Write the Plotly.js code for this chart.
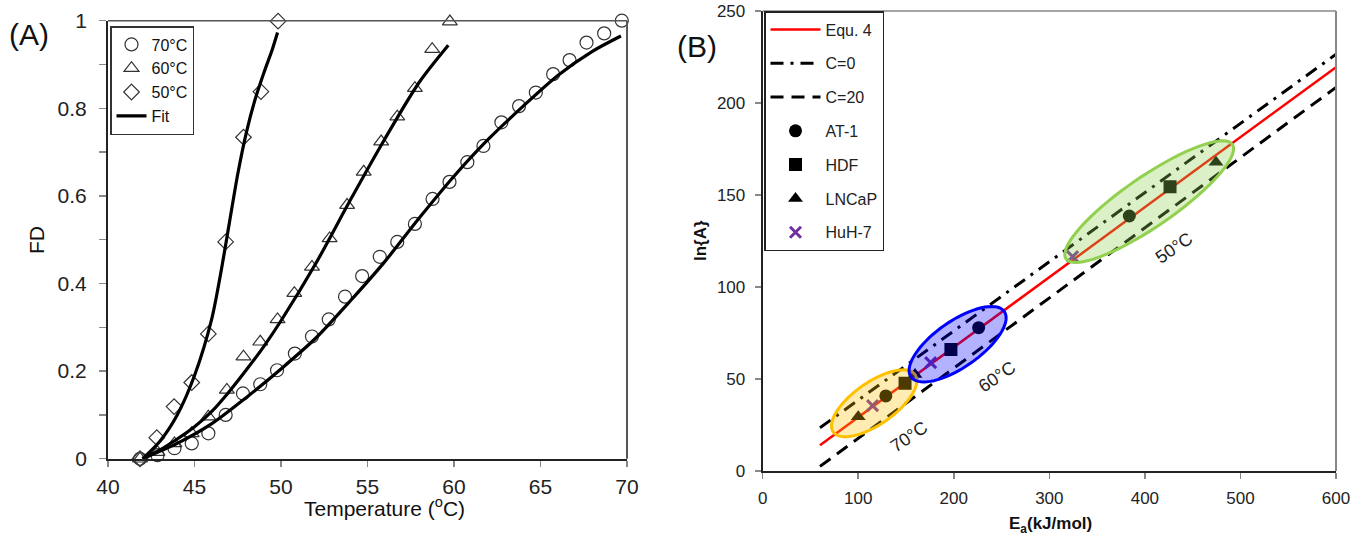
<!DOCTYPE html>
<html>
<head>
<meta charset="utf-8">
<script src="https://cdn.plot.ly/plotly-3.0.1.min.js"></script>
<style>html,body{margin:0;padding:0;background:#fff;}#chart{width:1369px;height:543px;}</style>
</head>
<body>
<div id="chart"></div>
<script>
// ---------- Panel A data ----------
const temp70 = [41.85, 42.86, 43.84, 44.84, 45.8, 46.8, 47.8, 48.8, 49.77, 50.8, 51.79, 52.76, 53.7, 54.69, 55.71, 56.72, 57.74, 58.76, 59.74, 60.77, 61.7, 62.74, 63.76, 64.73, 65.73, 66.68, 67.66, 68.68, 69.7];
const fd70 = [0, 0.008, 0.024, 0.035, 0.058, 0.1, 0.149, 0.17, 0.202, 0.24, 0.279, 0.318, 0.37, 0.417, 0.461, 0.495, 0.536, 0.593, 0.632, 0.677, 0.714, 0.768, 0.805, 0.836, 0.878, 0.91, 0.95, 0.971, 1.0];
const temp60 = [41.85, 42.86, 43.84, 44.84, 45.8, 46.87, 47.83, 48.8, 49.8, 50.77, 51.79, 52.81, 53.82, 54.78, 55.79, 56.72, 57.74, 58.74, 59.76];
const fd60 = [0, 0.015, 0.035, 0.058, 0.096, 0.157, 0.233, 0.267, 0.318, 0.378, 0.438, 0.503, 0.579, 0.655, 0.724, 0.781, 0.846, 0.935, 0.998];
const temp50 = [41.85, 42.82, 43.82, 44.84, 45.8, 46.8, 47.83, 48.84, 49.83];
const fd50 = [0, 0.048, 0.119, 0.174, 0.285, 0.495, 0.734, 0.838, 0.999];

const fitT70 = [42, 44, 46, 48, 50, 52, 54, 56, 58, 60, 62, 64, 66, 68, 69.65];
const fitFD70 = [0, 0.035, 0.08, 0.14, 0.205, 0.275, 0.36, 0.45, 0.55, 0.645, 0.73, 0.805, 0.875, 0.93, 0.965];
const fitT60 = [42, 43, 44, 45, 46, 47, 48, 49, 50, 52, 54, 56, 58, 59.67];
const fitFD60 = [0, 0.02, 0.045, 0.073, 0.108, 0.153, 0.203, 0.256, 0.315, 0.445, 0.59, 0.73, 0.86, 0.944];
const fitT50 = [42, 43, 44, 45, 46, 46.5, 47, 47.5, 48, 48.5, 49, 49.5, 49.8];
const fitFD50 = [0, 0.04, 0.1, 0.19, 0.32, 0.42, 0.535, 0.65, 0.745, 0.82, 0.88, 0.935, 0.973];

// ---------- Panel B data ----------
const lineEa = [60, 600];
const equ4LnA = [14, 219.5];
const c0LnA = [23.5, 226.5];
const c20LnA = [2.5, 208.5];

const at1Ea = [128.9, 226, 383.7];
const at1LnA = [40.8, 77.9, 138.6];
const hdfEa = [149, 197, 426.3];
const hdfLnA = [47.7, 66.1, 154.5];
const lncapEa = [100, 159.4, 474.4];
const lncapLnA = [29.5, 52.5, 167.8];
const huhEa = [115, 175.8, 324.4];
const huhLnA = [35.5, 58.9, 116.5];

// temperature groups (ellipses)
const groupLabels = ['70°C', '60°C', '50°C'];
const groupCenterEa = [116.7, 204, 404.5];
const groupCenterLnA = [36.8, 68.9, 146.4];
const groupLabelEa = [153, 245, 430.5];
const groupLabelLnA = [18.5, 51.1, 121.2];

// ---------- styling / geometry ----------
const W = 1369, H = 543;
const FONT = 'Liberation Sans, Arial, sans-serif';
const domAx = [0.0789, 0.458], domAy = [0.1552, 0.9619];
const domBx = [0.5571, 0.9759], domBy = [0.1326, 0.9797];
const ellipseSemiMajorPx = [50, 57, 101];
const ellipseSemiMinorPx = [21, 23, 25];
const ellipseAnglesDeg = [35, 35, 34.5];
const ellipseLine = ['#FFC000', '#0000FF', '#92D050'];
const ellipseFill = ['rgba(255,192,0,0.3)', 'rgba(0,0,255,0.3)', 'rgba(146,208,80,0.32)'];

const pxPerEa = (domBx[1] - domBx[0]) * W / 600;
const pxPerLnA = (domBy[1] - domBy[0]) * H / 250;

function ellipsePath(i) {
  const th = ellipseAnglesDeg[i] * Math.PI / 180;
  const a = ellipseSemiMajorPx[i], b = ellipseSemiMinorPx[i];
  let d = '';
  const n = 72;
  for (let k = 0; k <= n; k++) {
    const t = 2 * Math.PI * k / n;
    const dx = a * Math.cos(t) * Math.cos(th) - b * Math.sin(t) * Math.sin(th);
    const dy = a * Math.cos(t) * Math.sin(th) + b * Math.sin(t) * Math.cos(th);
    const x = groupCenterEa[i] + dx / pxPerEa;
    const y = groupCenterLnA[i] + dy / pxPerLnA;
    d += (k === 0 ? 'M' : 'L') + x.toFixed(3) + ',' + y.toFixed(3);
  }
  return d + 'Z';
}

const openMarker = (sym, size) => ({symbol: sym, size: size, color: '#333', line: {color: '#333', width: 1.2}});

const traces = [
  // Panel A
  {x: temp70, y: fd70, xaxis: 'x', yaxis: 'y', type: 'scatter', mode: 'markers', name: '70°C',
   marker: openMarker('circle-open', 13), cliponaxis: false, legend: 'legend2'},
  {x: temp60, y: fd60, xaxis: 'x', yaxis: 'y', type: 'scatter', mode: 'markers', name: '60°C',
   marker: openMarker('triangle-up-open', 13), cliponaxis: false, legend: 'legend2'},
  {x: temp50, y: fd50, xaxis: 'x', yaxis: 'y', type: 'scatter', mode: 'markers', name: '50°C',
   marker: openMarker('diamond-open', 12), cliponaxis: false, legend: 'legend2'},
  {x: fitT70, y: fitFD70, xaxis: 'x', yaxis: 'y', type: 'scatter', mode: 'lines', name: 'Fit',
   line: {color: '#000', width: 3.2, shape: 'spline', smoothing: 0.8}, legend: 'legend2', legendgroup: 'fit'},
  {x: fitT60, y: fitFD60, xaxis: 'x', yaxis: 'y', type: 'scatter', mode: 'lines', name: 'Fit',
   line: {color: '#000', width: 3.2, shape: 'spline', smoothing: 0.8}, legend: 'legend2', legendgroup: 'fit', showlegend: false},
  {x: fitT50, y: fitFD50, xaxis: 'x', yaxis: 'y', type: 'scatter', mode: 'lines', name: 'Fit',
   line: {color: '#000', width: 3.2, shape: 'spline', smoothing: 0.8}, legend: 'legend2', legendgroup: 'fit', showlegend: false},

  // Panel B
  {x: lineEa, y: equ4LnA, xaxis: 'x2', yaxis: 'y2', type: 'scatter', mode: 'lines', name: 'Equ. 4',
   line: {color: '#FF0000', width: 2.5}, legendgroup: 'g1'},
  {x: lineEa, y: c0LnA, xaxis: 'x2', yaxis: 'y2', type: 'scatter', mode: 'lines', name: 'C=0',
   line: {color: '#000', width: 3, dash: '13px,7px,3px,7px'}, legendgroup: 'g2'},
  {x: lineEa, y: c20LnA, xaxis: 'x2', yaxis: 'y2', type: 'scatter', mode: 'lines', name: 'C=20',
   line: {color: '#000', width: 3, dash: '13px,8px'}, legendgroup: 'g3'},
  {x: at1Ea, y: at1LnA, xaxis: 'x2', yaxis: 'y2', type: 'scatter', mode: 'markers', name: 'AT-1',
   marker: {symbol: 'circle', size: 13, color: '#000'}, legendgroup: 'g4'},
  {x: hdfEa, y: hdfLnA, xaxis: 'x2', yaxis: 'y2', type: 'scatter', mode: 'markers', name: 'HDF',
   marker: {symbol: 'square', size: 13, color: '#000'}, legendgroup: 'g5'},
  {x: lncapEa, y: lncapLnA, xaxis: 'x2', yaxis: 'y2', type: 'scatter', mode: 'markers', name: 'LNCaP',
   marker: {symbol: 'triangle-up', size: 13, color: '#000'}, legendgroup: 'g6'},
  {x: huhEa, y: huhLnA, xaxis: 'x2', yaxis: 'y2', type: 'scatter', mode: 'markers', name: 'HuH-7',
   marker: {symbol: 'x-thin-open', size: 11, color: '#7030A0', line: {color: '#7030A0', width: 3}}, legendgroup: 'g7'}
];

const shapes = [];
// frame top/right lines
shapes.push({type: 'line', xref: 'x domain', yref: 'y domain', x0: 0, x1: 1, y0: 1, y1: 1, line: {color: '#555', width: 1.5}});
shapes.push({type: 'line', xref: 'x domain', yref: 'y domain', x0: 1, x1: 1, y0: 0, y1: 1, line: {color: '#555', width: 2}});
shapes.push({type: 'line', xref: 'x2 domain', yref: 'y2 domain', x0: 0, x1: 1, y0: 1, y1: 1, line: {color: '#888', width: 1.5}});
shapes.push({type: 'line', xref: 'x2 domain', yref: 'y2 domain', x0: 1, x1: 1, y0: 0, y1: 1, line: {color: '#888', width: 2}});
for (let i = 0; i < groupLabels.length; i++) {
  shapes.push({type: 'path', xref: 'x2', yref: 'y2', path: ellipsePath(i), layer: 'above',
    fillcolor: ellipseFill[i], line: {color: ellipseLine[i], width: 3}});
}

const ann = (text, x, y, size, extra) => Object.assign({text: text, xref: 'paper', yref: 'paper', x: x / W, y: 1 - y / H,
  xanchor: 'center', yanchor: 'middle', showarrow: false, font: {family: FONT, size: size, color: '#111'}}, extra || {});

const annotations = [
  ann('(A)', 29, 35, 30),
  ann('(B)', 697, 46, 30),
  ann('FD', 36, 240, 21, {textangle: -90}),
  ann('Temperature (<sup>o</sup>C)', 384, 507, 21),
  ann('<b>E<sub>a</sub>(kJ/mol)</b>', 1050, 525, 17),
  ann('<b>ln{A}</b>', 700, 241, 17, {textangle: -90})
];
for (let i = 0; i < groupLabels.length; i++) {
  annotations.push({text: groupLabels[i], xref: 'x2', yref: 'y2', x: groupLabelEa[i], y: groupLabelLnA[i],
    xanchor: 'center', yanchor: 'middle',
    textangle: -34, showarrow: false, font: {family: FONT, size: 18, color: '#222'}});
}

const axisCommon = {showgrid: false, zeroline: false, showline: true, linecolor: '#222', ticks: 'outside',
  tickcolor: '#888', tickwidth: 1.5, tickfont: {family: FONT, color: '#222'}};

const layout = {
  width: W, height: H,
  margin: {l: 0, r: 0, t: 0, b: 0},
  paper_bgcolor: '#fff', plot_bgcolor: '#fff',
  font: {family: FONT},
  xaxis: Object.assign({}, axisCommon, {domain: domAx, range: [40, 70], dtick: 5, tick0: 40, anchor: 'y',
    ticklen: 6, linewidth: 2, ticklabelstandoff: 2, tickfont: {family: FONT, size: 21, color: '#222'}}),
  yaxis: Object.assign({}, axisCommon, {domain: domAy, range: [0, 1], dtick: 0.2, tick0: 0, anchor: 'x',
    ticklen: 7, linewidth: 2, ticklabelstandoff: 8, tickfont: {family: FONT, size: 21, color: '#222'},
    minor: {dtick: 0.1, ticks: 'outside', ticklen: 7, tickcolor: '#888', tickwidth: 1.5}}),
  xaxis2: Object.assign({}, axisCommon, {domain: domBx, range: [0, 600], dtick: 100, tick0: 0, anchor: 'y2',
    ticklen: 6, linewidth: 2, ticklabelstandoff: 5, tickfont: {family: FONT, size: 17, color: '#222'}}),
  yaxis2: Object.assign({}, axisCommon, {domain: domBy, range: [0, 250], dtick: 50, tick0: 0, anchor: 'x2',
    ticklen: 6, linewidth: 2, ticklabelstandoff: 6, tickfont: {family: FONT, size: 17, color: '#222'}}),
  legend: {x: 764 / W, y: 1 - 11 / H, xanchor: 'left', yanchor: 'top', bgcolor: '#fff', bordercolor: '#222', borderwidth: 1.5,
    font: {family: FONT, size: 16, color: '#222'}, traceorder: 'grouped', tracegroupgap: 10, itemwidth: 50},
  legend2: {x: 110 / W, y: 1 - 26 / H, xanchor: 'left', yanchor: 'top', bgcolor: '#fff', bordercolor: '#333', borderwidth: 1.5,
    font: {family: FONT, size: 16, color: '#111'}, traceorder: 'normal', tracegroupgap: 0, itemwidth: 30},
  shapes: shapes,
  annotations: annotations
};

Plotly.newPlot('chart', traces, layout, {displayModeBar: false, staticPlot: true});
</script>
</body>
</html>
